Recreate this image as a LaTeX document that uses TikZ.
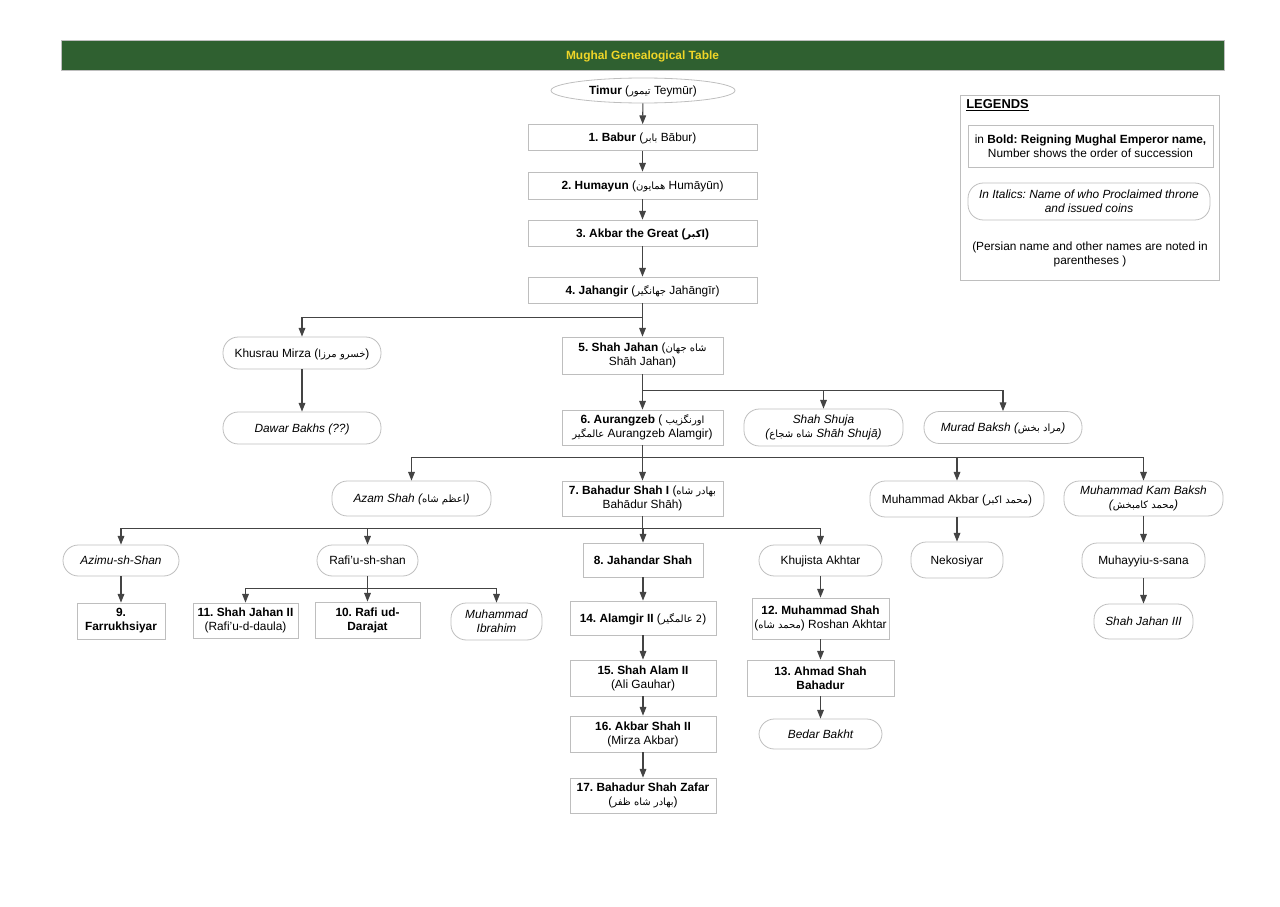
\documentclass[tikz,border=0pt]{standalone}
\usepackage{fontspec}
\setmainfont{Liberation Sans}
\newfontfamily\arabicfont[Script=Arabic]{DejaVu Sans}
\TeXXeTstate=1
\frenchspacing
\usetikzlibrary{arrows.meta,shapes.geometric}
\newcommand{\fa}[1]{{\arabicfont\upshape\fontsize{7.5}{10}\selectfont\beginR #1\endR}}
\newcommand{\bodyfont}{\fontsize{8.9}{10.6}\selectfont}
\definecolor{banner}{RGB}{47, 96, 48}
\definecolor{bannertext}{RGB}{240, 214, 40}
\definecolor{edge}{RGB}{190, 190, 190}
\definecolor{link}{RGB}{68, 68, 68}
\tikzset{
	base/.style 2 args={draw=edge, line width=0.6pt, align=center, inner sep=0pt, font=\bodyfont, text=black, minimum width=#1*0.75pt, minimum height=#2*0.75pt},
	reign/.style 2 args={base={#1}{#2}, rectangle},
	claim/.style 2 args={base={#1}{#2}, rectangle, rounded corners=11.5pt},
	slant/.style={font=\bodyfont\itshape},
	single/.style={text depth=0pt},
	conn/.style={draw=link, line width=0.8pt, -{Triangle[length=6.5pt,width=5pt]}}
}

\begin{document}
\begin{tikzpicture}[x=0.75pt, y=-0.75pt]
	\useasboundingbox (0,0) rectangle (1280,906);
	\node [rectangle, single, fill=banner, draw=edge, line width=0.3pt, minimum width=872.5pt, minimum height=22.5pt, font=\fontsize{8.95}{10}\selectfont\bfseries, text=bannertext] (title) at (642.5,55) {Mughal Genealogical Table};

	% main line
	\node [base={184}{25}, ellipse, single] (timur) at (643,90.5) {\textbf{Timur} (\fa{تيمور} Teymūr)};
	\node [reign={229}{26}, single] (babur) at (642.5,137.5) {\textbf{1. Babur} (\fa{بابر} Bābur)};
	\node [reign={229}{27}, single] (humayun) at (642.5,185.5) {\textbf{2. Humayun} (\fa{همايون} Humāyūn)};
	\node [reign={229}{26}, single] (akbar) at (642.5,233) {\textbf{3. Akbar the Great (\fa{اكبر})}};
	\node [reign={229}{26}, single] (jahangir) at (642.5,290) {\textbf{4. Jahangir} (\fa{جهانگير} Jahāngīr)};
	\node [reign={161}{37}] (shahjahan) at (642.5,355.5) {\textbf{5. Shah Jahan} (\fa{شاه جهان}\\Shāh Jahan)};
	\node [reign={161}{35}] (aurangzeb) at (642.5,427.5) {\textbf{6. Aurangzeb} ( \fa{اورنگزيب}\\\fa{عالمگير} Aurangzeb Alamgir)};
	\node [reign={161}{35}] (bahadur) at (642.5,498.5) {\textbf{7. Bahadur Shah I} (\fa{بهادر شاه}\\Bahādur Shāh)};

	% branches
	\node [claim={158}{32}, single] (khusrau) at (302,353) {Khusrau Mirza (\fa{خسرو مرزا})};
	\node [claim={158}{32}, slant, single] (dawar) at (302,428) {Dawar Bakhs (??)};
	\node [claim={159}{37}, slant] (shuja) at (823.5,427.5) {Shah Shuja\\(\fa{شاه شجاع} Shāh Shujā)};
	\node [claim={158}{32}, slant, single] (murad) at (1003,427.5) {Murad Baksh (\fa{مراد بخش})};
	\node [claim={159}{35}, slant, single] (azam) at (411.5,498.5) {Azam Shah (\fa{اعظم شاه})};
	\node [claim={174}{36}, single] (makbar) at (957,499) {Muhammad Akbar (\fa{محمد اكبر})};
	\node [claim={159}{35}, slant] (kambaksh) at (1143.5,498.5) {Muhammad Kam Baksh\\(\fa{محمد كامبخش})};
	\node [claim={92}{36}, single] (nekosiyar) at (957,560) {Nekosiyar};
	\node [claim={123}{35}, single] (muhayyiu) at (1143.5,560.5) {Muhayyiu-s-sana};
	\node [claim={99}{35}, slant, single] (jahan3) at (1143.5,621.5) {Shah Jahan III};

	% sons of Bahadur Shah
	\node [claim={116}{31}, slant, single] (azimu) at (121,560.5) {Azimu-sh-Shan};
	\node [reign={88}{36}] (farrukh) at (121,621) {\textbf{9.}\\\textbf{Farrukhsiyar}};
	\node [claim={101}{31}, single] (rafiu) at (367.5,560.5) {Rafi'u-sh-shan};
	\node [reign={105}{35}] (jahan2) at (245.5,620.5) {\textbf{11. Shah Jahan II}\\(Rafi'u-d-daula)};
	\node [reign={105}{36}] (darajat) at (367.5,620) {\textbf{10. Rafi ud-}\\\textbf{Darajat}};
	\node [claim={91}{37}, slant] (ibrahim) at (496.5,621.5) {Muhammad\\Ibrahim};
	\node [reign={120}{34}, single] (jahandar) at (643,560) {\textbf{8. Jahandar Shah}};
	\node [reign={146}{34}, single] (alamgir) at (643,618) {\textbf{14. Alamgir II} (\fa{2 عالمگير})};
	\node [reign={146}{36}] (shahalam) at (643,678) {\textbf{15. Shah Alam II}\\(Ali Gauhar)};
	\node [reign={146}{36}] (akbar2) at (643,734) {\textbf{16. Akbar Shah II}\\(Mirza Akbar)};
	\node [reign={146}{35}] (zafar) at (643,795.5) {\textbf{17. Bahadur Shah Zafar}\\(\fa{بهادر شاه ظفر})};
	\node [claim={123}{31}, single] (khujista) at (820.5,560.5) {Khujista Akhtar};
	\node [reign={137}{41}] (mshah) at (820.5,618.5) {\textbf{12. Muhammad Shah}\\(\fa{محمد شاه}) Roshan Akhtar};
	\node [reign={147}{36}] (ahmad) at (820.5,678) {\textbf{13. Ahmad Shah}\\\textbf{Bahadur}};
	\node [claim={123}{30}, slant, single] (bedar) at (820.5,734) {Bedar Bakht};

	% legend
	\node [reign={259}{185}] (legend) at (1089.5,187.5) {};
	\node [anchor=west, inner sep=0pt, font=\fontsize{9.7}{11}\selectfont\bfseries] (legendhead) at (966,105.5) {\underline{LEGENDS}};
	\node [reign={245}{42}] (legendbold) at (1090.5,146) {in \textbf{Bold: Reigning Mughal Emperor name,}\\Number shows the order of succession};
	\node [claim={242}{37}, slant] (legenditalic) at (1089,201.5) {In Italics: Name of who Proclaimed throne\\and issued coins};
	\node [align=center, inner sep=0pt, font=\bodyfont] (legendnote) at (1090,254) {(Persian name and other names are noted in\\parentheses )};

	% connectors
	\draw [conn] (timur) -- (babur);
	\draw [conn] (babur) -- (humayun);
	\draw [conn] (humayun) -- (akbar);
	\draw [conn] (akbar) -- (jahangir);
	\draw [conn] (jahangir) -- (shahjahan);
	\draw [conn] (shahjahan) -- (aurangzeb);
	\draw [conn] (aurangzeb) -- (bahadur);
	\draw [conn] (jahangir.south) -- ++(0,14) -| (khusrau.north);
	\draw [conn] (khusrau) -- (dawar);
	\foreach \son in {shuja, murad}
		\draw [conn] (shahjahan.south) -- ++(0,16) -| (\son.north);
	\foreach \son in {azam, makbar, kambaksh}
		\draw [conn] (aurangzeb.south) -- ++(0,12) -| (\son.north);
	\foreach \son in {azimu, rafiu, jahandar, khujista}
		\draw [conn] (bahadur.south) -- ++(0,12) -| (\son.north);
	\foreach \son in {jahan2, darajat, ibrahim}
		\draw [conn] (rafiu.south) -- ++(0,12) -| (\son.north);
	\draw [conn] (makbar) -- (nekosiyar);
	\draw [conn] (kambaksh) -- (muhayyiu);
	\draw [conn] (muhayyiu) -- (jahan3);
	\draw [conn] (azimu) -- (farrukh);
	\draw [conn] (jahandar) -- (alamgir);
	\draw [conn] (alamgir) -- (shahalam);
	\draw [conn] (shahalam) -- (akbar2);
	\draw [conn] (akbar2) -- (zafar);
	\draw [conn] (khujista) -- (mshah);
	\draw [conn] (mshah) -- (ahmad);
	\draw [conn] (ahmad) -- (bedar);
\end{tikzpicture}
\end{document}
